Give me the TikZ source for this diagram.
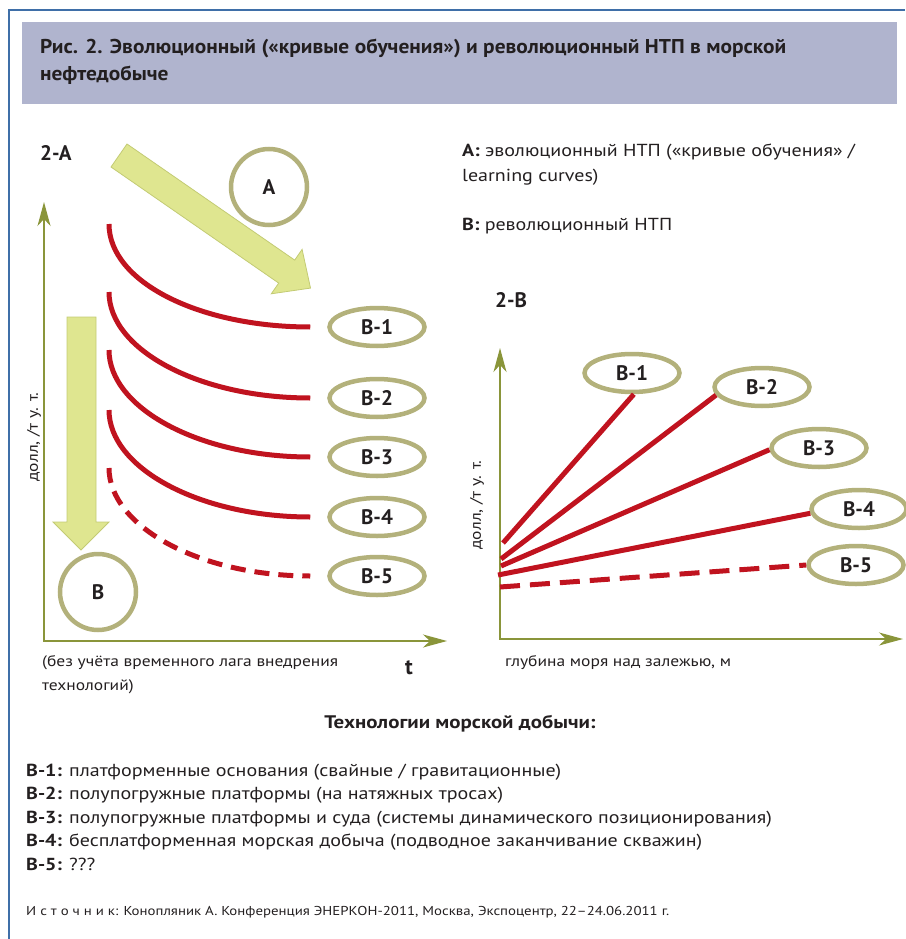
\documentclass[tikz,border=0pt]{standalone}
\usepackage{fontspec}
\setmainfont{PT Sans}
\newfontfamily\bodyfont{PT Sans}[FakeStretch=1.15]
\newfontfamily\titlefont{PT Sans}[FakeStretch=1.07]
\usetikzlibrary{shapes.geometric,arrows.meta}
\definecolor{hdrfill}{HTML}{B0B4CE}
\definecolor{frameblue}{HTML}{3F6FA8}
\definecolor{khaki}{HTML}{B3B17B}
\definecolor{limefill}{HTML}{DFE690}
\definecolor{limeedge}{HTML}{C3CB74}
\definecolor{curvered}{HTML}{C0131F}
\definecolor{axisgreen}{HTML}{8A953A}
\definecolor{ink}{HTML}{231F20}
\newcommand{\fsz}[1]{\fontsize{#1}{#1}\selectfont}
\begin{document}
\begin{tikzpicture}[x=1pt,y=-1pt,
  every node/.style={text=ink},
  ring/.style={circle,draw=khaki,line width=4.5pt,minimum size=76pt,inner sep=0pt,font=\bfseries\fsz{21}},
  tag/.style={ellipse,draw=khaki,line width=4.5pt,minimum width=95pt,minimum height=38pt,inner sep=0pt,font=\bfseries\fsz{21}},
  curve/.style={draw=curvered,line width=5pt},
  dashcurve/.style={curve,dash pattern=on 15pt off 9pt},
  dashline/.style={curve,dash pattern=on 20pt off 10pt},
  axis/.style={draw=axisgreen,line width=1.3pt,{Stealth[length=24pt,width=13pt,inset=7pt]}-{Stealth[length=24pt,width=13pt,inset=7pt]}},
  bigarrow/.style={fill=limefill,draw=limeedge,line width=0.8pt},
  txt/.style={anchor=base west,inner sep=0pt,font=\bodyfont\fsz{17.4}}]
  \useasboundingbox (0,0) rectangle (905,939);
  \draw[frameblue,line width=1.5pt] (9,939) -- (9,10) -- (905,10);
  \fill[hdrfill] (22,22) rectangle (897,104);
  \node[txt,font=\titlefont\bfseries\fsz{20}] (ttl1) at (40,54) {Рис. 2. Эволюционный («кривые обучения») и революционный НТП в морской};
  \node[txt,font=\titlefont\bfseries\fsz{20}] (ttl2) at (40,81) {нефтедобыче};
  % 2-A
  \node[txt,font=\bfseries\fsz{21}] (capA) at (40,160) {2-А};
  \draw[bigarrow] (127,144) -- (294.7,260.1) -- (302.1,249.4) -- (310.5,288.1)
    -- (271.3,293.8) -- (278.7,283.1) -- (111,167) -- cycle;
  \draw[bigarrow] (67,317) -- (96,317) -- (96,522) -- (109,522) -- (81,550)
    -- (53,522) -- (67,522) -- cycle;
  \node[ring] (cA) at (269,187) {А};
  \node[ring] (cB) at (98,592) {В};
  \coordinate (o1) at (44,641);
  \coordinate (yt1) at (44,202);
  \coordinate (xt1) at (447,641);
  \draw[axis] (yt1) -- (o1) -- (xt1);
  \foreach \i/\ys/\ye/\st in {1/224/327/curve,2/292/398/curve,3/350/457/curve,4/410/517/curve,5/468/576/dashcurve}{
    \node[tag] (l\i) at (377,\ye) {В-\i};
    \coordinate (s\i) at (109,\ys);
    \coordinate (e\i) at ([xshift=-17pt]l\i.west);
    \draw[\st] (s\i) .. controls ([yshift=-58pt]s\i) and ([xshift=-111pt]e\i) .. (e\i);
  }
  \node[rotate=90,font=\bodyfont\fsz{15.2}] (ya1) at (34,437) {долл, /т у. т.};
  \node[txt,font=\bodyfont\fsz{15.2}] (xa1) at (42,666) {(без учёта временного лага внедрения};
  \node[txt,font=\bodyfont\fsz{15.2}] (xb1) at (42,690) {технологий)};
  \node[anchor=base,font=\bfseries\fsz{22}] (tx) at (409,674) {t};
  % legend
  \node[txt] (la1) at (462,157) {\textbf{А:} эволюционный НТП («кривые обучения» /};
  \node[txt] (la2) at (462,181) {learning curves)};
  \node[txt] (lb) at (462,230) {\textbf{В:} революционный НТП};
  % 2-B
  \node[txt,font=\bfseries\fsz{21}] (capB) at (495,307) {2-В};
  \coordinate (o2) at (500,639);
  \coordinate (yt2) at (500,348);
  \coordinate (xt2) at (903,639);
  \draw[axis] (yt2) -- (o2) -- (xt2);
  \foreach \i/\sx/\sy/\qx/\qy/\ang/\st in {1/503/543/632/373/-85/curve,2/501/559/762/387/190/curve,3/501/566/819/448/182/curve,4/498/575/859/509/185/curve,5/500/587/856/565/180/dashline}{
    \node[tag] (r\i) at (\qx,\qy) {В-\i};
    \coordinate (p\i) at (\sx,\sy);
    \draw[\st] (p\i) -- (r\i.\ang);
  }
  \node[rotate=90,font=\bodyfont\fsz{15.2}] (ya2) at (477,505) {долл, /т у. т.};
  \node[txt,font=\bodyfont\fsz{15.2}] (xa2) at (505,666) {глубина моря над залежью, м};
  % technologies
  \node[anchor=base,inner sep=0pt,font=\bodyfont\bfseries\fsz{18.2}] (hd) at (460,728) {Технологии морской добычи:};
  \node[txt] (t1) at (26,776) {\textbf{В-1:} платформенные основания (свайные / гравитационные)};
  \node[txt] (t2) at (26,799.5) {\textbf{В-2:} полупогружные платформы (на натяжных тросах)};
  \node[txt] (t3) at (26,823) {\textbf{В-3:} полупогружные платформы и суда (системы динамического позиционирования)};
  \node[txt] (t4) at (26,846.5) {\textbf{В-4:} бесплатформенная морская добыча (подводное заканчивание скважин)};
  \node[txt] (t5) at (26,870) {\textbf{В-5:} ???};
  \node[txt,font=\bodyfont\fsz{12.9}] (src) at (26,915) {И с т о ч н и к: Конопляник А. Конференция ЭНЕРКОН-2011, Москва, Экспоцентр, 22–24.06.2011 г.};
\end{tikzpicture}
\end{document}
